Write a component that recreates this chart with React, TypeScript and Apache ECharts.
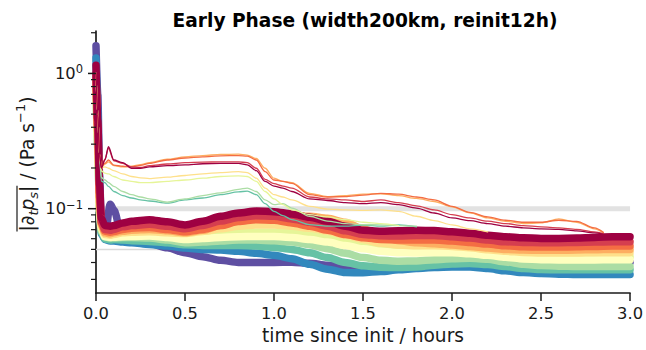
import React, { useEffect, useRef } from 'react';
import * as echarts from 'echarts';

// ---- data ----
const spectral = ['#9e0142', '#d53e4f', '#f46d43', '#fdae61', '#fee08b', '#ffffbf', '#e6f598', '#abdda4', '#66c2a5', '#3288bd', '#5e4fa2'];

const tThick = [0, 0.01, 0.02, 0.03, 0.05, 0.08, 0.1, 0.15, 0.2, 0.3, 0.4, 0.5, 0.6, 0.7, 0.8, 0.9, 1.0, 1.1, 1.2, 1.3, 1.4, 1.5, 1.6, 1.7, 1.8, 1.9, 2.0, 2.1, 2.2, 2.3, 2.4, 2.5, 2.6, 2.7, 2.8, 2.9, 3.0];

const thickDarkRed = [1.15, 0.45, 0.15, 0.085, 0.075, 0.0742, 0.075, 0.0785, 0.0807, 0.083, 0.080, 0.0759, 0.0807, 0.0879, 0.0929, 0.096, 0.0951, 0.0914, 0.0864, 0.0807, 0.0742, 0.0693, 0.0682, 0.0686, 0.0693, 0.0689, 0.0674, 0.0659, 0.0637, 0.062, 0.0609, 0.0603, 0.0603, 0.0606, 0.0613, 0.062, 0.062];
const thickRed = [1.0, 0.4, 0.13, 0.08, 0.0702, 0.0693, 0.0702, 0.0734, 0.075, 0.0767, 0.0742, 0.071, 0.075, 0.081, 0.0859, 0.0888, 0.0879, 0.084, 0.0794, 0.0742, 0.0686, 0.0645, 0.063, 0.0627, 0.0634, 0.0634, 0.062, 0.0606, 0.0586, 0.0569, 0.0563, 0.056, 0.056, 0.0563, 0.0566, 0.0569, 0.0569];
const thickOrange = [0.95, 0.38, 0.12, 0.078, 0.0682, 0.067, 0.0678, 0.0702, 0.0718, 0.0726, 0.0702, 0.0674, 0.0702, 0.075, 0.0803, 0.083, 0.0821, 0.0785, 0.0742, 0.0693, 0.0645, 0.0609, 0.0592, 0.0586, 0.0586, 0.0586, 0.0576, 0.0563, 0.0547, 0.0532, 0.0523, 0.052, 0.052, 0.0523, 0.0526, 0.0529, 0.0529];
const thickLightOrange = [0.9, 0.36, 0.11, 0.076, 0.0663, 0.0652, 0.0663, 0.0682, 0.0693, 0.0702, 0.0686, 0.0663, 0.0693, 0.075, 0.081, 0.0859, 0.0879, 0.0888, 0.0879, 0.085, 0.0794, 0.071, 0.0634, 0.058, 0.056, 0.0551, 0.0538, 0.0526, 0.0512, 0.05, 0.0495, 0.0492, 0.0492, 0.0495, 0.0497, 0.05, 0.05];
const thickYellow = [0.85, 0.33, 0.1, 0.074, 0.0645, 0.0637, 0.0645, 0.0663, 0.067, 0.0674, 0.0663, 0.0655, 0.0678, 0.071, 0.0742, 0.0759, 0.0759, 0.0742, 0.0718, 0.0682, 0.0637, 0.0592, 0.0556, 0.0538, 0.0532, 0.0532, 0.0526, 0.0515, 0.0497, 0.0484, 0.0475, 0.047, 0.047, 0.047, 0.0473, 0.0473, 0.0473];
const thickPale = [0.8, 0.3, 0.095, 0.072, 0.062, 0.0613, 0.0616, 0.062, 0.0623, 0.0627, 0.0613, 0.0592, 0.0603, 0.0613, 0.062, 0.0623, 0.0623, 0.0613, 0.0592, 0.0566, 0.0535, 0.0506, 0.0484, 0.0473, 0.047, 0.0473, 0.0473, 0.0465, 0.0452, 0.0437, 0.0425, 0.042, 0.0418, 0.0418, 0.0418, 0.042, 0.042];
const thickLime = [0.8, 0.3, 0.095, 0.07, 0.0645, 0.0634, 0.0634, 0.0641, 0.0645, 0.0652, 0.0641, 0.0616, 0.0634, 0.0648, 0.0663, 0.067, 0.067, 0.0663, 0.0645, 0.062, 0.0586, 0.0551, 0.0523, 0.0509, 0.0506, 0.0509, 0.0506, 0.0497, 0.0484, 0.0465, 0.0452, 0.0445, 0.0442, 0.044, 0.044, 0.0442, 0.0442];
const thickLightGreen = [0.75, 0.28, 0.09, 0.068, 0.062, 0.0606, 0.0606, 0.0613, 0.0613, 0.0606, 0.0586, 0.056, 0.0566, 0.0576, 0.0586, 0.0586, 0.058, 0.0566, 0.0541, 0.0506, 0.0468, 0.0435, 0.0415, 0.0409, 0.0411, 0.042, 0.0427, 0.043, 0.0423, 0.0404, 0.0388, 0.038, 0.0376, 0.0373, 0.0373, 0.0373, 0.0373];
const thickTeal = [0.85, 0.3, 0.09, 0.066, 0.0598, 0.0586, 0.0592, 0.0586, 0.058, 0.0573, 0.056, 0.0541, 0.0535, 0.0535, 0.0535, 0.0529, 0.0517, 0.05, 0.0473, 0.0435, 0.04, 0.0378, 0.0369, 0.0367, 0.0371, 0.0382, 0.039, 0.0393, 0.0386, 0.0373, 0.0361, 0.0355, 0.0353, 0.0353, 0.0353, 0.0353, 0.0353];
const thickBlue = [1.3, 0.5, 0.11, 0.065, 0.0592, 0.0576, 0.0576, 0.0566, 0.056, 0.0544, 0.0529, 0.0512, 0.05, 0.0495, 0.0484, 0.0468, 0.0452, 0.0427, 0.0388, 0.0357, 0.0337, 0.0336, 0.0343, 0.0353, 0.0361, 0.0367, 0.0371, 0.0371, 0.0361, 0.0347, 0.0337, 0.0332, 0.0328, 0.0326, 0.0326, 0.0326, 0.0326];
const thickPurple = [1.6, 0.7, 0.18, 0.075, 0.062, 0.108, 0.098, 0.0586, 0.0573, 0.0553, 0.0515, 0.0473, 0.0442, 0.0415, 0.04, 0.04, 0.04, 0.0402, 0.0395, 0.0382, 0.0371, 0.0367, 0.0371, 0.0378, 0.0384, 0.0388, 0.0393, 0.0395, 0.0398, 0.04, 0.04, 0.04, 0.04, 0.04, 0.0402, 0.0402, 0.0402];

const tThin = [0, 0.01, 0.02, 0.03, 0.05, 0.07, 0.1, 0.15, 0.2, 0.25, 0.3, 0.4, 0.5, 0.6, 0.7, 0.8, 0.85, 0.9, 0.95, 1.0, 1.05, 1.1, 1.2, 1.3, 1.4, 1.5, 1.6, 1.7, 1.8, 1.9, 2.0, 2.1, 2.2, 2.3, 2.4, 2.5, 2.6, 2.7, 2.8, 2.85];

const thinDarkRed = [1.0, 0.5, 0.25, 0.2, 0.229, 0.287, 0.229, 0.219, 0.199, 0.199, 0.204, 0.208, 0.211, 0.215, 0.216, 0.216, 0.211, 0.191, 0.159, 0.147, 0.142, 0.134, 0.118, 0.115, 0.111, 0.109, 0.111, 0.107, 0.101, 0.0929, 0.0854, 0.0816, 0.0776, 0.0742, 0.0722, 0.071, 0.0702, 0.0686, 0.0663, 0.0648];
const thinRed = [1.0, 0.5, 0.25, 0.2, 0.232, 0.279, 0.226, 0.216, 0.204, 0.202, 0.208, 0.214, 0.219, 0.221, 0.222, 0.222, 0.219, 0.199, 0.165, 0.153, 0.147, 0.142, 0.122, 0.118, 0.116, 0.113, 0.116, 0.111, 0.105, 0.098, 0.0904, 0.0854, 0.081, 0.0776, 0.075, 0.0734, 0.0722, 0.0702, 0.0674, 0.0655];
const thinOrange = [1.0, 0.5, 0.25, 0.21, 0.216, 0.229, 0.21, 0.206, 0.204, 0.209, 0.216, 0.229, 0.237, 0.242, 0.246, 0.247, 0.245, 0.229, 0.188, 0.163, 0.159, 0.154, 0.127, 0.122, 0.123, 0.126, 0.13, 0.128, 0.122, 0.116, 0.104, 0.094, 0.0869, 0.0821, 0.0794, 0.0794, 0.0821, 0.0807, 0.0722, 0.067];
const thinLightOrange = [1.0, 0.5, 0.25, 0.2, 0.214, 0.222, 0.208, 0.204, 0.206, 0.212, 0.219, 0.232, 0.242, 0.247, 0.252, 0.253, 0.249, 0.235, 0.199, 0.168, 0.159, 0.156, 0.13, 0.123, 0.125, 0.128, 0.129, 0.125, 0.119, 0.113, 0.103, 0.093, 0.0854, 0.0807, 0.0776, 0.0785, 0.084, 0.0794, 0.071, 0.0663];
const thinYellow = [1.0, 0.5, 0.25, 0.2, 0.204, 0.199, 0.191, 0.181, 0.173, 0.169, 0.167, 0.171, 0.176, 0.181, 0.185, 0.188, 0.185, 0.168, 0.142, 0.127, 0.122, 0.116, 0.104, 0.0993, 0.098, 0.0972, 0.098, 0.0956, 0.0879, 0.0816, 0.0759, 0.071, 0.0674];
const thinLime = [1.0, 0.5, 0.25, 0.19, 0.183, 0.181, 0.173, 0.163, 0.159, 0.156, 0.156, 0.159, 0.163, 0.168, 0.173, 0.175, 0.173, 0.159, 0.134, 0.118, 0.107, 0.098, 0.0904, 0.0869, 0.083, 0.0794, 0.0776, 0.075];
const thinLightGreen = [1.0, 0.5, 0.25, 0.17, 0.163, 0.156, 0.146, 0.134, 0.127, 0.122, 0.118, 0.112, 0.118, 0.125, 0.131, 0.139, 0.142, 0.134, 0.116, 0.107, 0.109, 0.101, 0.0879, 0.081, 0.0776, 0.0763, 0.0759, 0.075, 0.0742];
const thinTeal = [1.0, 0.5, 0.25, 0.16, 0.156, 0.146, 0.134, 0.125, 0.12, 0.116, 0.114, 0.11, 0.116, 0.12, 0.127, 0.133, 0.135, 0.127, 0.109, 0.0956, 0.0888, 0.083, 0.0763, 0.0742, 0.0742, 0.0755, 0.0742, 0.0759, 0.0734];

const refLevels = [0.1, 0.05];
const xTicks = [0, 3, 0.5];
const yMin = 0.0238;
const yMax = 2.06;
const majorTicks = [0.1, 1];
const minorTicks = [0.03, 0.04, 0.05, 0.06, 0.07, 0.08, 0.09, 0.2, 0.3, 0.4, 0.5, 0.6, 0.7, 0.8, 0.9, 2];

const titleText = 'Early Phase (width200km, reinit12h)';
const xLabel = 'time since init / hours';

// thick series drawn bottom -> top (purple first, dark red last)
const thickSeries: [string, number[]][] = [
  [spectral[10], thickPurple],
  [spectral[9], thickBlue],
  [spectral[8], thickTeal],
  [spectral[7], thickLightGreen],
  [spectral[6], thickLime],
  [spectral[5], thickPale],
  [spectral[4], thickYellow],
  [spectral[3], thickLightOrange],
  [spectral[2], thickOrange],
  [spectral[1], thickRed],
  [spectral[0], thickDarkRed],
];
const thinSeries: [string, number[]][] = [
  [spectral[8], thinTeal],
  [spectral[7], thinLightGreen],
  [spectral[6], thinLime],
  [spectral[4], thinYellow],
  [spectral[3], thinLightOrange],
  [spectral[2], thinOrange],
  [spectral[1], thinRed],
  [spectral[0], thinDarkRed],
];

const FF = '"DejaVu Sans", sans-serif';
const INK = '#1a1a1a';

export default function App() {
  const ref = useRef<HTMLDivElement>(null);
  useEffect(() => {
    document.body.style.margin = '0';
    const chart = echarts.init(ref.current!, null, { renderer: 'svg' });

    const mainSize = 18.6;
    const subSize = 13;
    const ctx = document.createElement('canvas').getContext('2d')!;
    const meas = (s: string, font: string) => { ctx.font = font; return ctx.measureText(s).width; };
    const fMain = `${mainSize}px "DejaVu Sans"`;
    const fIt = `italic ${mainSize}px "DejaVu Sans"`;
    const fSubIt = `italic ${subSize}px "DejaVu Sans"`;
    const fSub = `${subSize}px "DejaVu Sans"`;
    const wA = meas('|∂', fMain) + meas('t', fSubIt) + meas('p', fIt) + meas('s', fSubIt) + meas('|', fMain);
    const W = wA + meas(' / (Pa s', fMain) + meas('−1', fSub) + meas(')', fMain);

    const series: any[] = [];
    refLevels.forEach((lv, i) => {
      series.push({
        type: 'line', silent: true, symbol: 'none', z: 1,
        data: [[xTicks[0], lv], [xTicks[1], lv]],
        lineStyle: { color: i === 0 ? '#e2e2e2' : '#dadada', width: i === 0 ? 5 : 1.5 },
      });
    });
    thickSeries.forEach(([c, vals]) => {
      series.push({
        type: 'line', silent: true, symbol: 'none', z: 2,
        smooth: 0.3, smoothMonotone: 'x',
        data: vals.map((v, i) => [tThick[i], v]),
        lineStyle: { color: c, width: 7.5, cap: 'round', join: 'round' },
      });
    });
    thinSeries.forEach(([c, vals]) => {
      series.push({
        type: 'line', silent: true, symbol: 'none', z: 3,
        smooth: 0.3, smoothMonotone: 'x',
        data: vals.map((v, i) => [tThin[i], v]),
        lineStyle: { color: c, width: 1.3, cap: 'round', join: 'round' },
      });
    });
    series.push({
      type: 'custom', silent: true, z: 5, clip: false,
      data: [...majorTicks.map((v) => [0, v, 1]), ...minorTicks.map((v) => [0, v, 0])],
      renderItem: (params: any, api: any) => {
        const p = api.coord([api.value(0), api.value(1)]);
        const major = api.value(2) === 1;
        const len = major ? 8 : 5;
        return {
          type: 'line',
          shape: { x1: p[0] - len, y1: p[1], x2: p[0], y2: p[1] },
          style: { stroke: INK, lineWidth: major ? 1.5 : 1.2 },
        };
      },
    });

    const isPow10 = (v: number) => Math.abs(Math.log10(v) - Math.round(Math.log10(v))) < 1e-6;

    chart.setOption({
      animation: false,
      grid: { left: 96, right: 12, top: 31, bottom: 56.5 },
      xAxis: {
        type: 'value', min: xTicks[0], max: xTicks[1], interval: xTicks[2],
        axisLine: { show: true, onZero: false, lineStyle: { color: INK, width: 1.7 } },
        axisTick: { show: true, length: 8, lineStyle: { color: INK, width: 1.5 } },
        splitLine: { show: false },
        axisLabel: {
          margin: 12, color: INK, fontFamily: FF, fontSize: 16.3,
          formatter: (v: number) => v.toFixed(1),
        },
        name: xLabel, nameLocation: 'middle', nameGap: 33,
        nameTextStyle: { fontFamily: FF, fontSize: 18.6, color: INK },
      },
      yAxis: {
        type: 'log', logBase: 10, min: yMin, max: yMax,
        axisLine: { show: true, lineStyle: { color: INK, width: 1.7 } },
        axisTick: { show: false },
        splitLine: { show: false },
        minorTick: { show: false },
        axisLabel: {
          margin: 13, color: INK, fontFamily: FF,
          formatter: (v: number) => {
            if (!isPow10(v)) return '';
            const e = Math.round(Math.log10(v));
            return `{b|10}{s|${e < 0 ? '−' + -e : e}}`;
          },
          rich: {
            b: { fontSize: 16.3, fontFamily: FF, color: INK, lineHeight: 20 },
            s: { fontSize: 11.5, fontFamily: FF, color: INK, lineHeight: 11, verticalAlign: 'top' },
          },
        },
      },
      graphic: [
        {
          type: 'text', x: 365, y: 20.5, silent: true,
          style: {
            text: titleText, fontFamily: FF, fontWeight: 'bold', fontSize: 18.6, fill: '#000',
            align: 'center', verticalAlign: 'middle',
          },
        },
        {
          type: 'group', x: 27, y: 164, rotation: Math.PI / 2, silent: true,
          children: [
            {
              type: 'text', x: -W / 2, y: 0,
              style: {
                text: '{n||∂}{st|t}{it|p}{st|s}{n|| / (Pa s}{sup|−1}{n|)}',
                align: 'left', verticalAlign: 'middle',
                rich: {
                  n: { fontSize: mainSize, fontFamily: FF, fill: INK, lineHeight: 26 },
                  it: { fontSize: mainSize, fontFamily: FF, fontStyle: 'italic', fill: INK, lineHeight: 26 },
                  st: { fontSize: subSize, fontFamily: FF, fontStyle: 'italic', fill: INK, lineHeight: 14, verticalAlign: 'bottom' },
                  sup: { fontSize: subSize, fontFamily: FF, fill: INK, lineHeight: 13, verticalAlign: 'top' },
                },
              },
            },
            {
              type: 'line',
              shape: { x1: -W / 2, y1: -10, x2: -W / 2 + wA, y2: -10 },
              style: { stroke: INK, lineWidth: 1.2 },
            },
          ],
        },
      ],
      series,
    });
    return () => chart.dispose();
  }, []);
  return <div ref={ref} style={{ width: 646, height: 350 }} />;
}
